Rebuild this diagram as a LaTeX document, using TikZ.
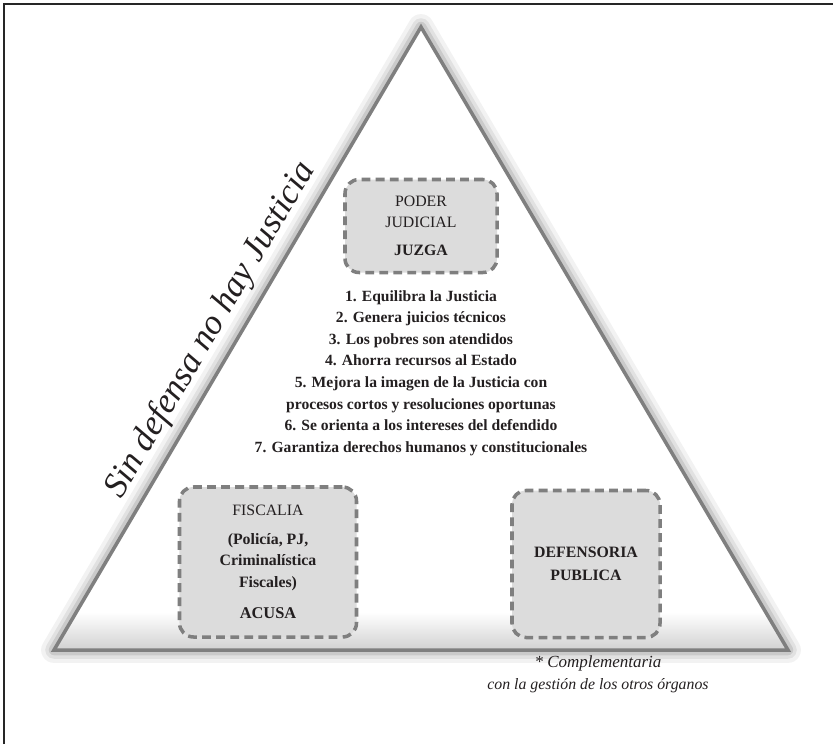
\documentclass[tikz,border=0pt]{standalone}
\usepackage{fontspec}
\setmainfont{Liberation Serif}
\usetikzlibrary{calc}

\definecolor{tinta}{HTML}{231F20}
\definecolor{borde}{HTML}{7F7F7F}
\definecolor{relleno}{HTML}{DCDCDC}

\begin{document}
\begin{tikzpicture}[x=0.03cm, y=-0.03cm,
  caja/.style={draw=borde, fill=relleno, line width=3pt, dash pattern=on 7.5pt off 4.5pt,
    rounded corners=12pt, align=center, inner sep=0pt, text=tinta},
  lista/.style={align=center, text=tinta, font=\bfseries\fontsize{13.3}{18.4}\selectfont},
  nota/.style={align=center, text=tinta, font=\itshape\fontsize{13.5}{18.6}\selectfont}]
  \useasboundingbox (0,0) rectangle (833,744);

  % marco
  \coordinate (M1) at (4,744);
  \coordinate (M2) at (4,4);
  \coordinate (M3) at (833,4);
  \draw[line width=1.6pt, black!85] (M1) -- (M2) -- (M3);

  % triangulo
  \coordinate (A) at (421,27);
  \coordinate (B) at (54,650);
  \coordinate (C) at (788,650);

  % sombra
  \foreach \w/\o in {22/0.05, 15/0.07, 9/0.1} {
    \draw[line width=\w pt, black, opacity=\o, line join=round] (A) -- (B) -- (C) -- cycle;
  }
  \fill[white] (A) -- (B) -- (C) -- cycle;
  \begin{scope}
    \clip (A) -- (B) -- (C) -- cycle;
    \shade[top color=white, bottom color=black!18] (40,612) rectangle (800,650);
  \end{scope}
  \draw[borde, line width=3pt, line join=miter] (A) -- (B) -- (C) -- cycle;

  % lado izquierdo
  \node[rotate=59.6, text=tinta, font=\itshape\fontsize{30}{32}\selectfont] (lema) at (211,330)
    {Sin defensa no hay Justicia};

  % tres organos
  \node[caja, minimum width=4.56cm, minimum height=2.79cm, font=\fontsize{13.5}{18}\selectfont] (poder) at (421,226)
    {PODER\\JUDICIAL\\[6pt]\textbf{JUZGA}};
  \node[caja, minimum width=5.31cm, minimum height=4.5cm, font=\fontsize{13.5}{18}\selectfont] (fiscalia) at (268,562)
    {FISCALIA\\[7pt]\textbf{(Policía, PJ,}\\\textbf{Criminalística}\\\textbf{Fiscales)}\\[9pt]\textbf{\fontsize{14}{18}\selectfont ACUSA}};
  \node[caja, minimum width=4.44cm, minimum height=4.41cm, font=\bfseries\fontsize{13.5}{19.5}\selectfont] (defensa) at (586,564)
    {DEFENSORIA\\PUBLICA};

  % aportes
  \node[lista] (aportes) at (421,373) {1. Equilibra la Justicia\\
    2. Genera juicios técnicos\\
    3. Los pobres son atendidos\\
    4. Ahorra recursos al Estado\\
    5. Mejora la imagen de la Justicia con\\
    procesos cortos y resoluciones oportunas\\
    6. Se orienta a los intereses del defendido\\
    7. Garantiza derechos humanos y constitucionales};

  % nota
  \node[nota] (comp) at (598,674) {{\fontsize{14.5}{18.6}\selectfont * Complementaria}\\con la gestión de los otros órganos};
\end{tikzpicture}
\end{document}
